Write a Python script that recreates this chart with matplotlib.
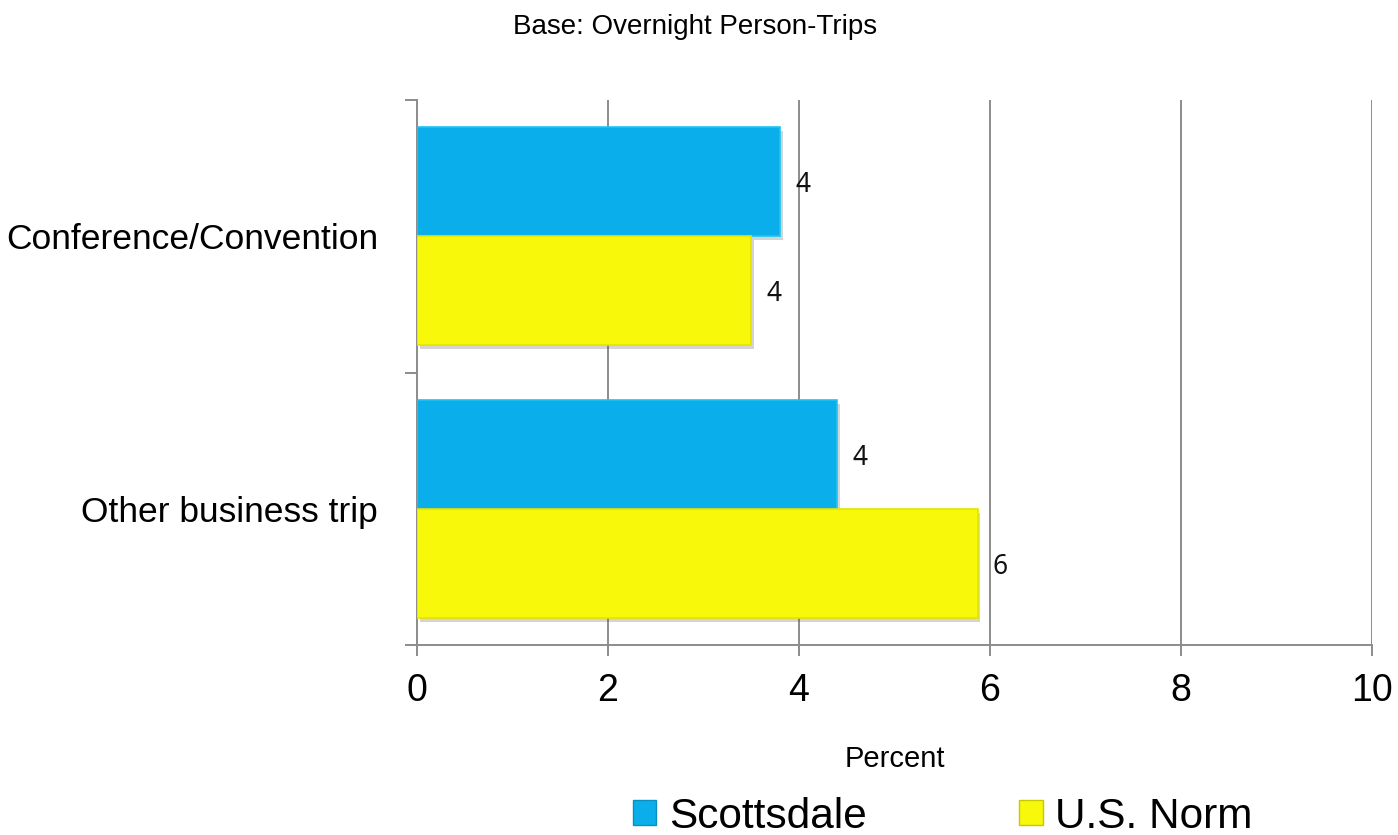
"""Business trip purpose: Scottsdale vs U.S. norm, horizontal bars."""
import matplotlib
matplotlib.use("Agg")
import matplotlib.pyplot as plt
import matplotlib.patheffects as pe
from matplotlib.patches import Patch
import numpy as np

categories = ["Conference/Convention", "Other business trip"]
scottsdale = [3.8, 4.4]
us_norm = [3.5, 5.87]
series_names = ["Scottsdale", "U.S. Norm"]

BLUE = "#0AAEEA"
YELLOW = "#F8F80A"
GRID = "#8C8C8C"

plt.rcParams["font.family"] = ["Liberation Sans", "DejaVu Sans"]

fig = plt.figure(figsize=(13.98, 8.35), dpi=100)
ax = fig.add_axes([0.2983, 0.2275, 0.6831, 0.6527])

y = np.arange(len(categories))
h = 0.4
shadow = [pe.SimplePatchShadow(offset=(2, -3), alpha=0.25, shadow_rgbFace="#555555"),
          pe.Normal()]

bars_s = ax.barh(y - h / 2, scottsdale, height=h, color=BLUE,
                 edgecolor="#1BC4F5", linewidth=1.2, zorder=3,
                 path_effects=shadow)
bars_u = ax.barh(y + h / 2, us_norm, height=h, color=YELLOW,
                 edgecolor="#E4E400", linewidth=1.2, zorder=3,
                 path_effects=shadow)

# value labels, rounded to whole percent
for bars, vals in ((bars_s, scottsdale), (bars_u, us_norm)):
    for b, v in zip(bars, vals):
        ax.annotate(f"{v:.0f}", xy=(v, b.get_y() + b.get_height() / 2),
                    xytext=(11, -2.5), textcoords="offset points",
                    ha="left", va="center", fontsize=19,
                    family=["Noto Sans", "DejaVu Sans"], color="#111111",
                    zorder=5)

ax.set_xlim(0, 10)
ax.set_ylim(1.5, -0.5)
ax.set_xticks(np.arange(0, 11, 2))
ax.tick_params(axis="x", labelsize=27, length=8, width=1.4, color=GRID,
               direction="out", pad=12)
ax.xaxis.grid(True, color=GRID, linewidth=1.4, zorder=0)
ax.set_axisbelow(True)

# category labels at centres, ticks at the category boundaries
ax.set_yticks(y)
ax.set_yticklabels(categories, fontsize=25.5)
ax.tick_params(axis="y", which="major", length=0, pad=28)
ax.set_yticks([-0.5, 0.5, 1.5], minor=True)
ax.tick_params(axis="y", which="minor", length=9, width=1.4, color=GRID,
               direction="out")

for side in ("top", "right"):
    ax.spines[side].set_visible(False)
for side in ("left", "bottom"):
    ax.spines[side].set_color(GRID)
    ax.spines[side].set_linewidth(1.4)

ax.set_xlabel("Percent", fontsize=21, labelpad=26)
fig.text(0.497, 0.968, "Base: Overnight Person-Trips", ha="center",
         va="center", fontsize=20)

handles = [Patch(facecolor=BLUE, edgecolor="#0890C0"),
           Patch(facecolor=YELLOW, edgecolor="#C8C800")]
fig.legend(handles, series_names, loc="center", ncol=2,
           bbox_to_anchor=(0.6745, 0.022), fontsize=30.5, frameon=False,
           handlelength=0.55, handleheight=0.55, handletextpad=0.3,
           columnspacing=3.6)

fig.savefig("out.png", dpi=100)
